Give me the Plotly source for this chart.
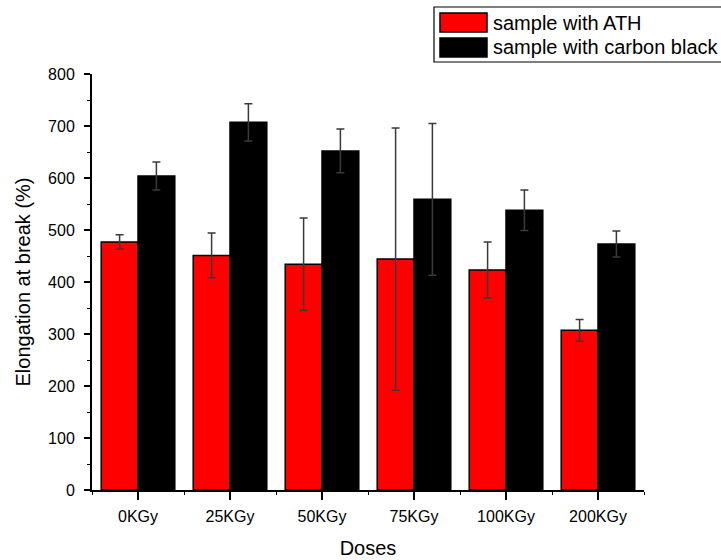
import plotly.graph_objects as go

categories = ["0KGy", "25KGy", "50KGy", "75KGy", "100KGy", "200KGy"]
ath_values = [477, 451, 434, 444, 423, 307]
ath_errors = [14, 43, 89, 252, 54, 21]
cb_values = [604, 707, 652, 559, 538, 473]
cb_errors = [27, 36, 42, 146, 39, 25]
series_names = ["sample with ATH", "sample with carbon black"]
series_colors = ["#ff0000", "#000000"]
y_ticks = [0, 100, 200, 300, 400, 500, 600, 700, 800]

FONT = "Arial, Liberation Sans, sans-serif"
W, H = 721, 560
L, R, T, B = 92, 644, 74, 490


def px_x(px):
    return (px - L) / (R - L)


def px_y(py):
    return (B - py) / (B - T)


xpos = list(range(len(categories)))

fig = go.Figure()
for vals, errs, name, col in [
    (ath_values, ath_errors, series_names[0], series_colors[0]),
    (cb_values, cb_errors, series_names[1], series_colors[1]),
]:
    fig.add_trace(go.Bar(
        x=xpos, y=vals, name=name, showlegend=False,
        marker=dict(color=col, line=dict(color="black", width=1.5)),
        error_y=dict(type="data", array=errs, visible=True,
                     color="#3a3a3a", thickness=1.5, width=4),
        hoverinfo="skip",
    ))

fig.update_layout(
    width=W, height=H,
    margin=dict(l=L, r=W - R, t=T, b=H - B, autoexpand=False),
    paper_bgcolor="white", plot_bgcolor="white",
    barmode="group", bargap=0.2, bargroupgap=0,
    font=dict(family=FONT, color="black", size=16),
    showlegend=False,
)

fig.update_xaxes(
    range=[-0.5, len(categories) - 0.5],
    tickmode="array", tickvals=xpos, ticktext=categories,
    showline=True, linecolor="black", linewidth=2,
    ticks="outside", ticklen=8, tickwidth=1.5, tickcolor="black",
    ticklabelstandoff=3,
    showgrid=False, zeroline=False,
    tickfont=dict(size=16, family=FONT, color="black"),
    minor=dict(ticks="outside", ticklen=3, tickwidth=1, tickcolor="black",
               tick0=-0.5, dtick=1, showgrid=False),
    title=dict(text="Doses", font=dict(size=20, family=FONT), standoff=17),
    fixedrange=True,
)
fig.update_yaxes(
    range=[0, 800],
    tickmode="array", tickvals=y_ticks,
    showline=True, linecolor="black", linewidth=2,
    ticks="outside", ticklen=6, tickwidth=1.5, tickcolor="black",
    ticklabelstandoff=6,
    showgrid=False, zeroline=False,
    tickfont=dict(size=16, family=FONT, color="black"),
    minor=dict(ticks="outside", ticklen=3, tickwidth=1, tickcolor="black",
               dtick=50, showgrid=False),
    title=dict(text="Elongation at break (%)", font=dict(size=20, family=FONT), standoff=12),
    fixedrange=True,
)

# Custom legend (box, swatches, labels)
fig.add_shape(type="rect", xref="paper", yref="paper",
              x0=px_x(434), x1=px_x(726), y0=px_y(62), y1=px_y(7),
              line=dict(color="black", width=1.2), fillcolor="white", layer="above")
rows = [(13, 32, 22.5), (38, 57, 47.5)]
for (y_top, y_bot, y_mid), name, col in zip(rows, series_names, series_colors):
    fig.add_shape(type="rect", xref="paper", yref="paper",
                  x0=px_x(440), x1=px_x(487), y0=px_y(y_bot), y1=px_y(y_top),
                  line=dict(color="black", width=1.5), fillcolor=col, layer="above")
    fig.add_annotation(xref="paper", yref="paper", x=px_x(491), y=px_y(y_mid),
                       text=name, showarrow=False, xanchor="left", yanchor="middle",
                       font=dict(size=20, family=FONT, color="black"))

fig.write_html("out.html", config={"displayModeBar": False},
               post_script="document.body.style.margin='0';")
